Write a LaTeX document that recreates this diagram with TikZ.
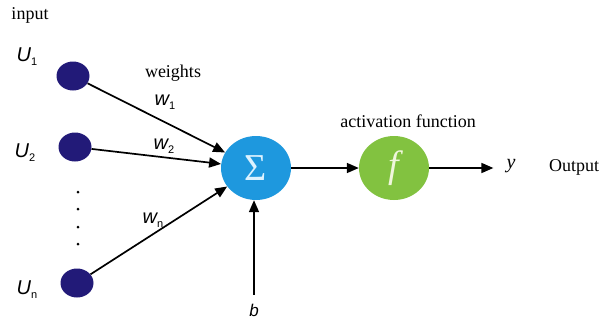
\documentclass[tikz,border=0pt]{standalone}
\usepackage{fontspec}
\setmainfont{Liberation Serif}
\setsansfont{Liberation Sans}
\usetikzlibrary{shapes.geometric,arrows.meta}
\definecolor{navy}{RGB}{34,26,120}
\definecolor{sigblue}{RGB}{30,152,222}
\definecolor{fgreen}{RGB}{130,194,64}
\definecolor{sigtext}{RGB}{220,242,255}
\definecolor{ftext}{RGB}{240,246,220}
\newcommand{\lowsub}[1]{\raisebox{-4pt}{\fontsize{11}{11}\selectfont\upshape #1}}
\begin{document}
\begin{tikzpicture}[x=1pt,y=-1pt,
  inp/.style={ellipse,fill=navy,minimum width=33pt,minimum height=29pt,inner sep=0pt},
  big/.style={ellipse,minimum width=70pt,minimum height=64pt,inner sep=0pt},
  lab/.style={font=\fontsize{18}{20}\selectfont,inner sep=0pt},
  ulab/.style={font=\fontsize{20}{20}\selectfont\sffamily\itshape,inner sep=0pt},
  conn/.style={line width=1.7pt,-{Triangle[length=12pt,width=10pt]}},
  dotn/.style={circle,fill=black,minimum size=3pt,inner sep=0pt}]
\useasboundingbox (0,0) rectangle (602,324);
% input neurons
\node[inp] (u1) at (73,76) {};
\node[inp] (u2) at (75,147) {};
\node[inp] (un) at (77,283) {};
\node[dotn] (d1) at (78,192) {};
\node[dotn] (d2) at (78,209) {};
\node[dotn] (d3) at (78,227) {};
\node[dotn] (d4) at (78,244) {};
% sum and activation
\node[big,fill=sigblue] (sum) at (256,168) {\color{sigtext}\fontsize{38}{38}\selectfont Σ};
\node[big,fill=fgreen] (f) at (394,168) {\color{ftext}\fontsize{38}{38}\selectfont\itshape f};
% labels
\node[lab] (input) at (30,15) {input};
\node[ulab] (lu1) at (27,57) {U\lowsub{1}};
\node[ulab] (lu2) at (25,153) {U\lowsub{2}};
\node[ulab] (lun) at (27,290) {U\lowsub{n}};
\node[lab] (weights) at (173,73) {weights};
\node[ulab] (w1) at (165,102) {w\lowsub{1}};
\node[ulab] (w2) at (164,146) {w\lowsub{2}};
\node[ulab] (wn) at (153,220) {w\lowsub{n}};
\node[lab] (act) at (408,121) {activation function};
\node[lab,font=\fontsize{20}{20}\selectfont\itshape] (yout) at (511,166) {y};
\node[lab] (outp) at (574,167) {Output};
\node[ulab,font=\fontsize{17}{18}\selectfont\sffamily\itshape] (b) at (254,310) {b};
% connectors
\draw[conn] (u1) -- (sum);
\draw[conn] (u2) -- (sum);
\draw[conn] (un) -- (sum);
\draw[conn] (sum) -- (f);
\draw[conn,shorten >=13pt] (f) -- (f -| yout.west);
\draw[conn,shorten <=9pt] (b.north) -- (b.north |- sum.south);
\end{tikzpicture}
\end{document}
